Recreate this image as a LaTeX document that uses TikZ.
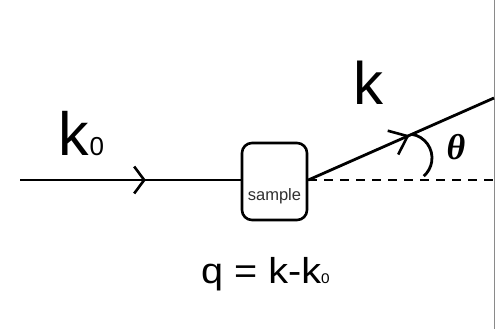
\documentclass[tikz,border=0pt]{standalone}
\usepackage{fontspec}
\usepackage{graphicx}
\setmainfont{Liberation Sans}
\newfontfamily\greekfont{Liberation Serif}
\usetikzlibrary{arrows.meta,decorations.markings}
\definecolor{edgegray}{HTML}{8A8A8A}
\definecolor{textgray}{HTML}{303030}

\begin{document}
\begin{tikzpicture}[x=1pt,y=-1pt,
  beam/.style={line width=2.8pt},
  inarrow/.style={postaction={decorate},
    decoration={markings,mark=at position 0.57 with
      {\arrow{Straight Barb[length=10pt,width=27pt,line width=2.6pt]}}}},
  outarrow/.style={postaction={decorate},
    decoration={markings,mark=at position 0.545 with
      {\arrow{Straight Barb[length=16pt,width=26pt,line width=2.6pt]}}}},
  samplebox/.style={draw, line width=2.6pt, rounded corners=10pt,
    minimum width=65pt, minimum height=77pt, inner sep=0pt},
  plainlabel/.style={anchor=base west, inner sep=0pt}
]
  % canvas
  \fill[white] (0,0) rectangle (496,329);
  \useasboundingbox (0,0) rectangle (496,329);

  % screen edge
  \draw[edgegray, line width=1pt] (494,0) -- (494,329);

  % sample
  \node[samplebox,
    label={[font=\fontsize{16.5}{16.5}\selectfont, text=textgray,
            anchor=base, yshift=-14.5pt, inner sep=0pt]center:sample}]
    (smp) at (274.5,181.5) {};

  % beam end points
  \coordinate (src) at (20,180);
  \coordinate (farup) at (494,98);
  \coordinate (farflat) at (494,180);

  % incoming and scattered beams
  \draw[beam, inarrow] (src) -- (src -| smp.west);
  \draw[beam, outarrow] (smp.east |- src) -- (farup);
  \draw[beam, dash pattern=on 9pt off 7pt] (smp.east |- src) -- (farflat);

  % scattering angle mark
  \draw[beam] ([shift={(-81:24)}]408,158) arc[start angle=-81, end angle=49, radius=24];

  % labels
  \node[plainlabel] (kin) at (58,156)
    {\fontsize{61}{61}\selectfont k\kern1pt\fontsize{26}{26}\selectfont 0};
  \node[plainlabel] (kout) at (353,105) {\fontsize{60}{60}\selectfont k};
  \node[anchor=base, inner sep=0pt] (theta) at (456,160)
    {\greekfont\bfseries\itshape\fontsize{36}{36}\selectfont θ};
  \node[plainlabel] (qeq) at (201,283)
    {\scalebox{1.1}[1]{\fontsize{36}{36}\selectfont q = k-k\fontsize{14}{14}\selectfont 0}};
\end{tikzpicture}
\end{document}
